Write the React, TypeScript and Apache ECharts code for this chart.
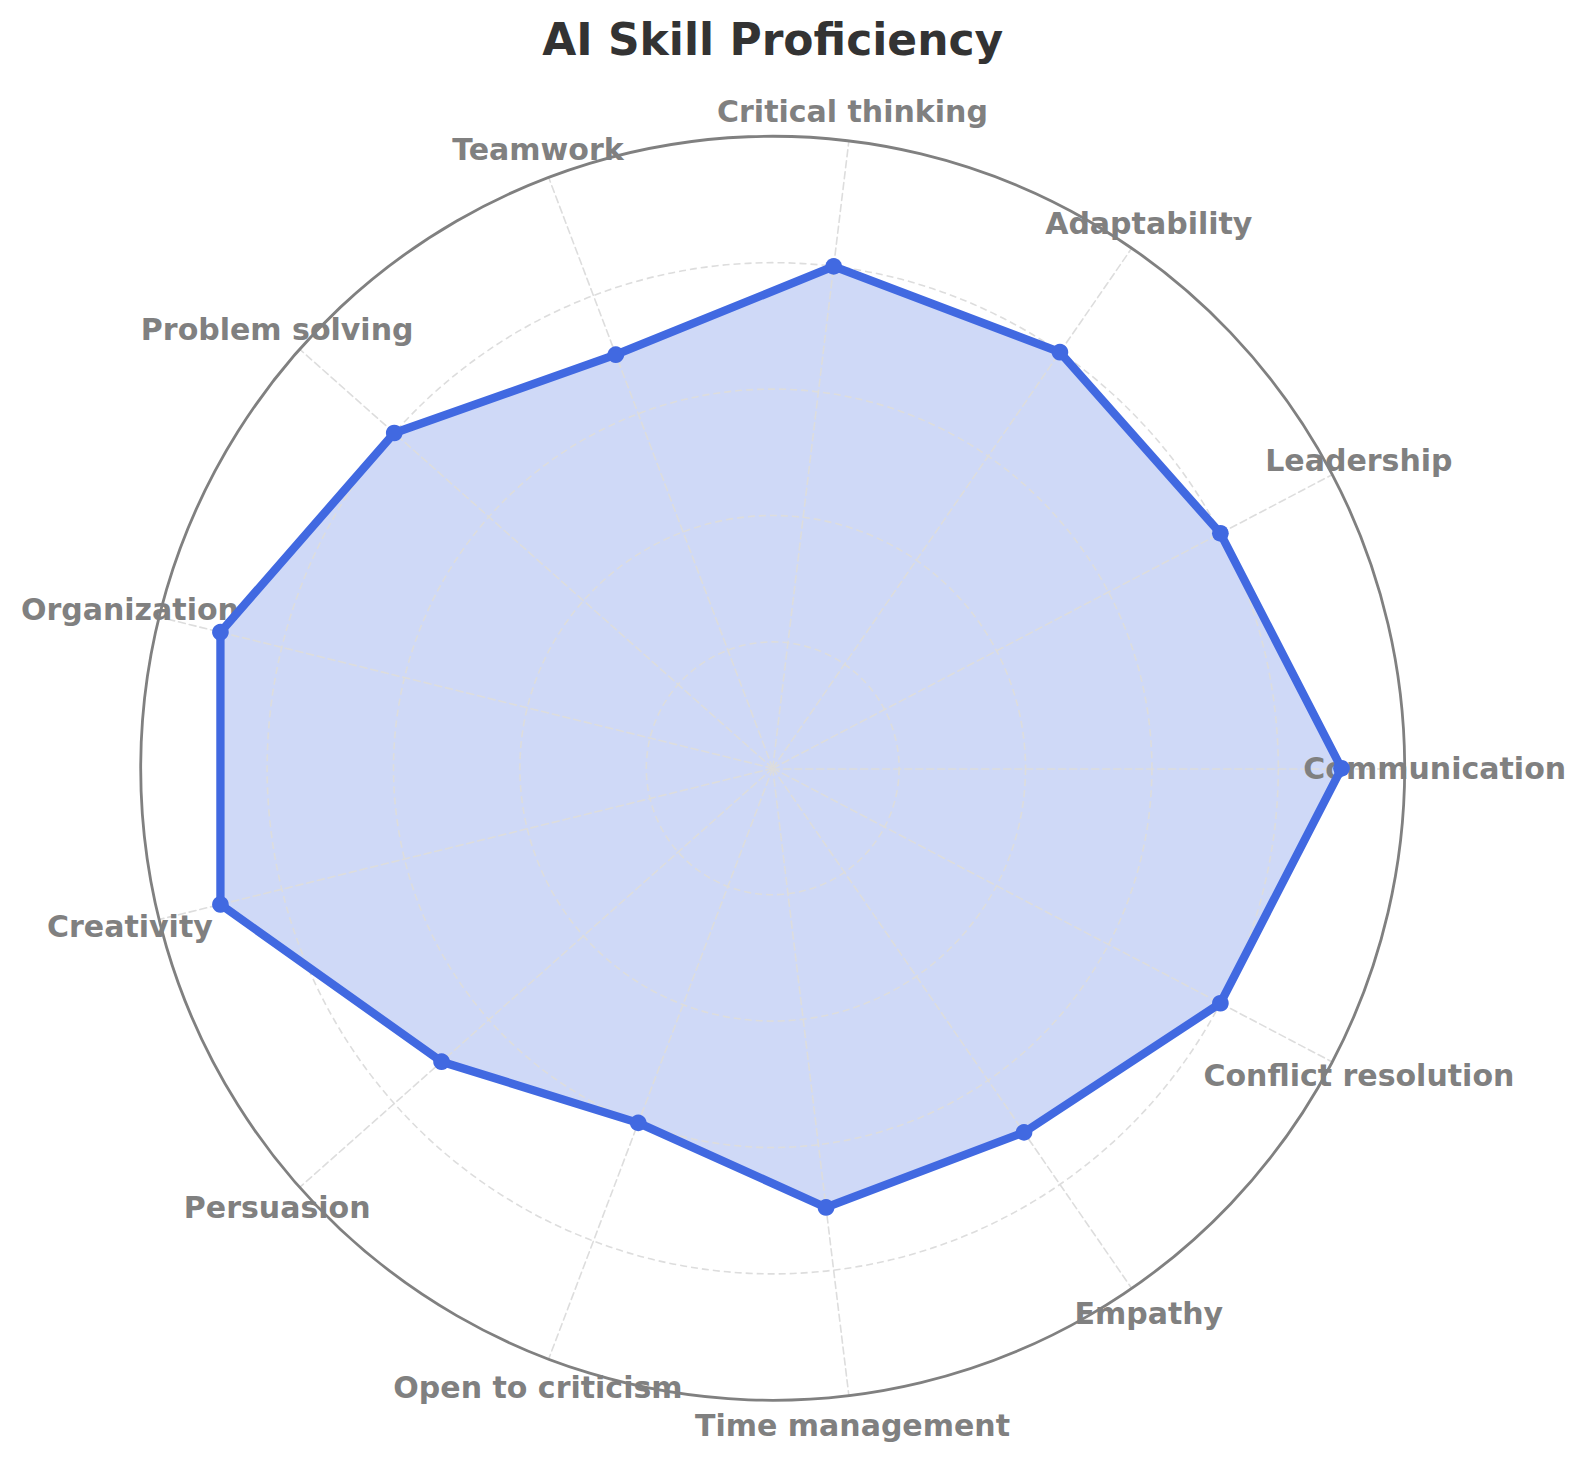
import React, { useEffect, useRef } from "react";
import * as echarts from "echarts";

const categories = [
  "Communication",
  "Leadership",
  "Adaptability",
  "Critical thinking",
  "Teamwork",
  "Problem solving",
  "Organization",
  "Creativity",
  "Persuasion",
  "Open to criticism",
  "Time management",
  "Empathy",
  "Conflict resolution",
];
const proficiency = [90, 80, 80, 80, 70, 80, 90, 90, 70, 60, 70, 70, 80];
const maxValue = 100;
const chartTitle = "AI Skill Proficiency";

const W = 1587;
const H = 1460;
const CX = 772.7;
const CY = 768.3;
const R = 632;
const LABEL_R = 104.75; // in value units, labels sit just outside the outer ring
const POLAR_MAX = 120;

export default function App() {
  const ref = useRef<HTMLDivElement>(null);
  useEffect(() => {
    document.body.style.margin = "0";
    const chart = echarts.init(ref.current!, undefined, { renderer: "svg" });
    const font = "DejaVu Sans";
    const n = categories.length;
    const grid = "#dddddd";
    const clear = "rgba(0,0,0,0)";
    const option: any = {
      animation: false,
      backgroundColor: "#ffffff",
      title: {
        text: chartTitle,
        left: CX - 5,
        top: 8,
        textAlign: "center",
        textStyle: {
          fontFamily: font,
          fontSize: 44,
          fontWeight: "bold",
          color: "#333333",
          lineHeight: 52,
        },
      },
      radar: [
        {
          center: [CX, CY],
          radius: R,
          startAngle: 0,
          shape: "circle",
          splitNumber: 5,
          z: 2,
          indicator: categories.map((c) => ({ name: c, max: maxValue, min: 0 })),
          axisName: { show: false },
          splitArea: { show: false },
          splitLine: {
            lineStyle: {
              color: [grid, grid, grid, grid, grid, clear],
              type: [7, 4],
              width: 1.6,
            },
          },
          axisLine: {
            lineStyle: { color: grid, type: [7, 4], width: 1.6 },
          },
          axisTick: { show: false },
          axisLabel: { show: false },
        },
        {
          center: [CX, CY],
          radius: R,
          startAngle: 0,
          shape: "circle",
          splitNumber: 1,
          z: 4,
          indicator: categories.map((c) => ({ name: c, max: maxValue, min: 0 })),
          axisName: { show: false },
          splitArea: { show: false },
          splitLine: { lineStyle: { color: [clear, "#808080"], width: 2.8, type: "solid" } },
          axisLine: { show: false },
          axisTick: { show: false },
          axisLabel: { show: false },
        },
      ],
      polar: {
        center: [CX, CY],
        radius: (R * POLAR_MAX) / maxValue,
      },
      angleAxis: {
        type: "value",
        min: 0,
        max: 360,
        startAngle: 0,
        clockwise: false,
        show: false,
      },
      radiusAxis: {
        type: "value",
        min: 0,
        max: POLAR_MAX,
        show: false,
      },
      series: [
        {
          type: "scatter",
          coordinateSystem: "polar",
          z: 3,
          symbolSize: 1,
          itemStyle: { color: clear, opacity: 1 },
          silent: true,
          data: categories.map((c, i) => ({
            name: c,
            value: [LABEL_R, (i * 360) / n],
          })),
          label: {
            show: true,
            position: "inside",
            formatter: (p: any) => p.name,
            fontFamily: font,
            fontSize: 30,
            fontWeight: "bold",
            color: "#808080",
            opacity: 1,
            align: "center",
            verticalAlign: "middle",
          },
        },
        {
          // filled area, beneath the grid
          type: "radar",
          radarIndex: 0,
          z: 1,
          symbol: "none",
          silent: true,
          lineStyle: { width: 0, opacity: 0 },
          areaStyle: { color: "rgba(65,105,225,0.25)", opacity: 1 },
          data: [{ value: proficiency, name: "Proficiency area" }],
        },
        {
          // outline and markers, above the grid
          type: "radar",
          radarIndex: 0,
          z: 5,
          symbol: "circle",
          symbolSize: 16.7,
          lineStyle: { color: "#4169E1", width: 8.3, opacity: 1 },
          itemStyle: { color: "#4169E1", opacity: 1 },
          data: [{ value: proficiency, name: "Proficiency" }],
        },
      ],
    };
    chart.setOption(option);
    return () => chart.dispose();
  }, []);
  return <div ref={ref} style={{ width: W, height: H }} />;
}
